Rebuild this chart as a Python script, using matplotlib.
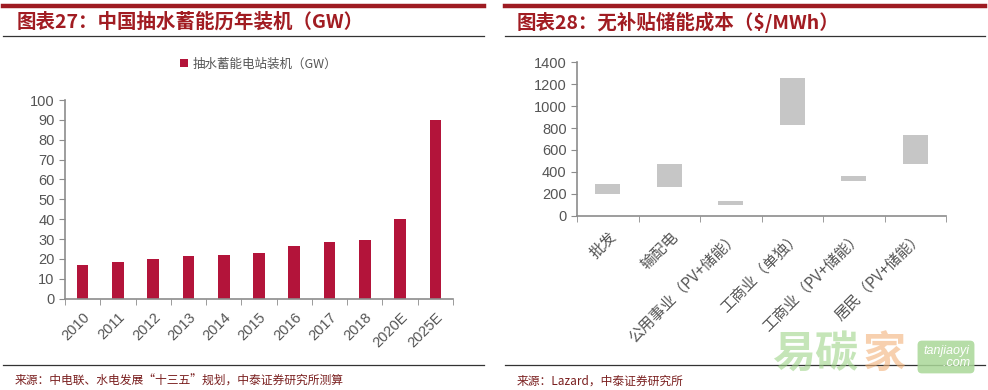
import matplotlib.pyplot as plt
import numpy as np

plt.rcParams['font.family'] = ['Liberation Sans', 'Noto Sans CJK SC', 'DejaVu Sans']

# left chart data
years = ['2010', '2011', '2012', '2013', '2014', '2015', '2016', '2017', '2018', '2020E', '2025E']
capacity = [16.9, 18.5, 20.2, 21.6, 22.2, 23.2, 26.6, 28.6, 29.6, 40.1, 89.9]

# right chart data
segments = ['批发', '输配电', '公用事业（PV+储能）', '工商业（单独）', '工商业（PV+储能）', '居民（PV+储能）']
cost_low = [202, 263, 102, 832, 318, 476]
cost_high = [290, 472, 136, 1254, 364, 737]

W, H = 988, 390
red = '#b3143a'
title_red = '#a11c22'
grey_txt = '#555555'
axis_grey = '#8c8c8c'
cjk = ['Noto Sans CJK SC', 'DejaVu Sans']

fig = plt.figure(figsize=(W / 100, H / 100), dpi=100)
fig.patch.set_facecolor('white')


def px(x0, y0, x1, y1):
    # pixel box -> figure fraction [left, bottom, width, height]
    return [x0 / W, 1 - y1 / H, (x1 - x0) / W, (y1 - y0) / H]


def hline(x0, x1, y, lw, color):
    fig.add_artist(plt.Line2D([x0 / W, x1 / W], [1 - y / H, 1 - y / H], lw=lw, color=color))


# header / footer rules
for a, b in [(3, 484), (505, 985)]:
    hline(a, b, 6, 3.2, '#9e1b22')
    hline(a, b, 36, 0.9, '#333333')
    hline(a, b, 365, 0.9, '#333333')

fig.text(17 / W, 1 - 22 / H, '图表27：中国抽水蓄能历年装机（GW）', color=title_red,
         fontsize=14, fontweight='bold', style='italic', va='center', family=cjk)
fig.text(517 / W, 1 - 22 / H, '图表28：无补贴储能成本（$/MWh）', color=title_red,
         fontsize=14, fontweight='bold', style='italic', va='center', family=cjk)

fig.text(15 / W, 1 - 381 / H, '来源：中电联、水电发展“十三五”规划，中泰证券研究所测算',
         color='#7a1f1f', fontsize=8.5, va='center', family=cjk)
fig.text(517 / W, 1 - 381 / H, '来源：Lazard，中泰证券研究所',
         color='#7a1f1f', fontsize=8.5, va='center', family=cjk)

# ---- left chart ----
ax1 = fig.add_axes(px(65, 100, 453, 298.7))
x = np.arange(len(years))
ax1.bar(x, capacity, width=0.33, color=red, label='抽水蓄能电站装机（GW）')
ax1.set_xlim(-0.5, len(years) - 0.5)
ax1.set_ylim(0, 100)
ax1.set_yticks(np.arange(0, 101, 10))
ax1.set_xticks(x)
ax1.set_xticklabels(years, rotation=45, ha='right', rotation_mode='anchor')
ax1.set_xticks(np.arange(-0.5, len(years), 1), minor=True)
ax1.tick_params(axis='x', which='major', length=0, pad=8, labelsize=10.5, labelcolor=grey_txt)
ax1.tick_params(axis='x', which='minor', length=4, color=axis_grey, direction='out')
ax1.tick_params(axis='y', length=4, color=axis_grey, labelsize=10.5, labelcolor=grey_txt)
for s in ['top', 'right']:
    ax1.spines[s].set_visible(False)
for s in ['left', 'bottom']:
    ax1.spines[s].set_color(axis_grey)
    ax1.spines[s].set_linewidth(1.2)
ax1.legend(loc='lower center', bbox_to_anchor=(0.5, 1.09), frameon=False,
           prop={'family': cjk, 'size': 9},
           handlelength=0.6, handleheight=0.6, handletextpad=0.4, labelcolor=grey_txt)

# ---- right chart ----
ax2 = fig.add_axes(px(577, 62.3, 946, 215.7))
x2 = np.arange(len(segments))
heights = [h - l for l, h in zip(cost_low, cost_high)]
ax2.bar(x2, heights, bottom=cost_low, width=0.41, color='#c6c6c6')
ax2.set_xlim(-0.5, len(segments) - 0.5)
ax2.set_ylim(0, 1400)
ax2.set_yticks(np.arange(0, 1401, 200))
ax2.set_xticks(x2)
ax2.set_xticklabels(segments, rotation=45, ha='right', rotation_mode='anchor', family=cjk)
ax2.set_xticks(np.arange(-0.5, len(segments), 1), minor=True)
ax2.tick_params(axis='x', which='major', length=0, pad=9, labelsize=11, labelcolor=grey_txt)
ax2.tick_params(axis='x', which='minor', length=4, color=axis_grey, direction='out')
ax2.tick_params(axis='y', length=4, color=axis_grey, labelsize=10.5, labelcolor=grey_txt)
for s in ['top', 'right']:
    ax2.spines[s].set_visible(False)
for s in ['left', 'bottom']:
    ax2.spines[s].set_color(axis_grey)
    ax2.spines[s].set_linewidth(1.2)

# watermark
fig.text(772 / W, 1 - 354 / H, '易碳', color='#9fd58a', fontsize=31, alpha=0.6,
         va='center', fontweight='bold', family=cjk)
fig.text(862 / W, 1 - 354 / H, '家', color='#f3b27a', fontsize=31, alpha=0.6,
         va='center', fontweight='bold', family=cjk)
fig.text(946 / W, 1 - 357 / H, 'tanjiaoyi\n      .com', color='white', fontsize=9,
         ha='center', va='center', linespacing=1.0, style='italic',
         bbox=dict(boxstyle='round,pad=0.35', fc='#a9d898', ec='none', alpha=0.85))

fig.savefig('out.png', dpi=100, facecolor='white')
